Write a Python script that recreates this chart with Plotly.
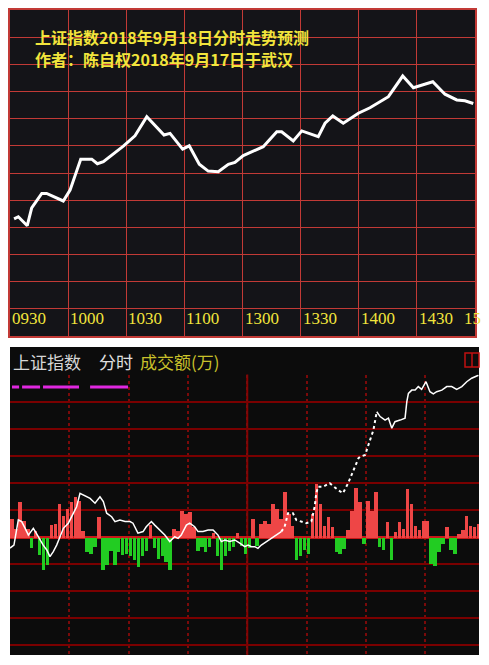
import plotly.graph_objects as go

# page body has an 8px margin, so the figure is placed at (8, 8) in the window
OFF = 8
W, H = 475, 649

# ---------- top chart: forecast intraday path (minutes after 09:30) ----------
top_minutes = [2.1, 4.3, 8.9, 11.2, 16.4, 18.9, 27.5, 31.0, 36.5, 42.2,
               45.1, 48.2, 58.5, 64.5, 70.6, 79.5, 82.6, 89.1, 92.5, 97.7,
               102.3, 107.5, 112.7, 116.1, 120.4, 130.7, 137.7, 140.2, 146.2, 150.6,
               159.1, 162.6, 166.6, 172.0, 179.8, 185.8, 195.3, 202.7, 208.2, 218.2,
               224.5, 230.6, 234.8, 239.1]
top_values = [2683.1, 2683.9, 2680.6, 2687.2, 2692.5, 2692.5, 2689.7, 2693.7, 2705.1, 2705.1,
              2703.4, 2704.2, 2709.9, 2713.7, 2720.7, 2714.0, 2714.6, 2708.8, 2710.0, 2703.2,
              2700.7, 2700.5, 2703.2, 2703.9, 2706.4, 2709.7, 2715.2, 2715.2, 2711.8, 2715.5,
              2713.4, 2718.3, 2721.0, 2718.3, 2722.0, 2724.0, 2728.1, 2735.7, 2731.4, 2733.6,
              2729.0, 2726.9, 2726.6, 2725.6]
top_tick_labels = ["0930", "1000", "1030", "1100", "1300", "1330", "1400", "1430", "15"]
top_tick_pos = [0, 30, 60, 90, 120, 150, 180, 210, 233.3]
title_lines = ["上证指数2018年9月18日分时走势预测", "作者：陈自权2018年9月17日于武汉"]

# ---------- bottom chart: actual intraday ----------
prev_close = 2651.79
line_a_min = [0, 2.0, 4.2, 5.9, 7.6, 9.3, 10.5, 11.8, 13.2, 15.2,
              16.8, 18.6, 20.2, 21.9, 23.6, 25.3, 27.0, 29.5, 32.0, 33.7,
              35.4, 37.1, 40.5, 43.0, 45.5, 47.2, 48.9, 51.4, 53.1, 55.6,
              58.2, 60.7, 62.2, 64.7, 67.3, 68.9, 71.5, 73.2, 75.7, 78.3,
              80.8, 83.3, 85.0, 86.6, 89.2, 90.9, 93.4, 95.1, 97.6, 100.2,
              102.7, 105.2, 106.9, 108.6, 111.1, 113.7, 116.2, 118.7, 120.4, 122.1,
              123.8, 125.4, 127.1, 129.6, 132.2, 134.7, 137.2]
line_a_val = [2647.7, 2648.8, 2658.1, 2657.5, 2655.1, 2652.5, 2653.7, 2655.0, 2653.3, 2650.7,
              2648.8, 2647.0, 2644.5, 2646.4, 2648.8, 2651.9, 2655.0, 2656.9, 2660.6, 2663.0,
              2668.0, 2667.4, 2666.1, 2664.3, 2666.7, 2664.9, 2660.6, 2659.3, 2657.5, 2658.1,
              2657.5, 2657.5, 2656.9, 2653.2, 2653.8, 2655.6, 2657.5, 2656.2, 2654.4, 2652.5,
              2650.1, 2651.9, 2651.3, 2652.5, 2656.2, 2656.9, 2655.6, 2653.8, 2653.8, 2654.4,
              2654.4, 2652.5, 2650.1, 2650.7, 2650.1, 2650.7, 2649.5, 2648.2, 2648.8, 2648.2,
              2648.2, 2647.6, 2648.8, 2650.1, 2651.3, 2652.5, 2653.8]
line_b_min = [137.2, 138.9, 140.6, 143.1, 144.8, 147.3, 149.9, 152.4, 154.1, 154.9,
              155.8, 158.3, 161.7, 165.9, 168.4, 171.0, 173.6, 176.2, 177.0, 179.6,
              182.1, 183.8, 185.5]
line_b_val = [2653.8, 2655.6, 2660.6, 2660.6, 2658.1, 2657.5, 2656.9, 2657.5, 2663.0, 2668.0,
              2670.4, 2670.4, 2671.7, 2669.2, 2668.0, 2671.7, 2676.0, 2680.9, 2681.5, 2682.2,
              2687.7, 2691.4, 2698.2]
line_c_min = [185.5, 187.2, 189.7, 191.4, 193.1, 194.7, 197.3, 199.8, 200.7, 201.5,
              203.2, 204.9, 206.5, 208.2, 210.4, 212.4, 214.1, 215.8, 218.4, 220.9,
              223.4, 225.9, 228.5, 231.0, 233.5, 236.1, 236.9]
line_c_val = [2698.2, 2696.4, 2695.1, 2695.8, 2692.1, 2694.5, 2695.1, 2695.8, 2701.9, 2705.0,
              2706.2, 2706.2, 2707.5, 2706.5, 2709.3, 2705.6, 2704.8, 2705.6, 2706.2, 2707.5,
              2707.5, 2706.5, 2707.5, 2709.3, 2710.6, 2711.4, 2711.7]

bar_minutes = list(range(1, 240, 2))
flow = [7, 3, 13, 6, 3, -4, 2.5, -6.5, -12, -10,
        4.5, 5, 12.5, 8, 10.5, 13, 15, 13.5, 2.5, -5.5,
        -6, -3.5, 7.5, -12, -10, -5, -10, -5.5, -6.5, -6,
        -7, -8.5, -11, -7, -5, 4.5, -4, -8, -7, -9,
        -12, 3, 2.5, 10, 8.8, 9.4, 3.8, -5, -3.5, -5.5,
        -3.5, 1.5, -7, -12, -7, -5, -3.5, 1.5, -3, -6,
        -4, 7, -3, 5, 6.3, 5, 12.5, 10.6, 7, 17,
        8.8, 4.4, -8.5, -6.7, -4.8, -6, 8.8, 20, 12.5, 4.4,
        7.5, 3.8, -5.4, -6, -4.2, 2.6, 10, 18.5, 13, -2.5,
        13.7, 10, 17, -3.6, -4.8, 5.7, -8.5, 2, 5.7, 3.2,
        18, 12.5, 4.4, 2.6, 6.3, 6.3, -9.8, -10.4, -5.4, -2.3,
        3.8, -4.8, -6, 1.4, 2.6, 8.1, 4.4, 3.8, 5, 3.2]
magenta_min = [1.0, 4.6, None, 6.1, 15.2, None, 16.7, 34.9, None, 40.5, 59.7]
magenta_lvl = [55.6, 55.6, None, 55.6, 55.6, None, 55.6, 55.6, None, 55.6, 55.6]

YELLOW = "#f2e53c"
RED = "#ee4646"
GREEN = "#22cc22"


def px(x):
    return (x - OFF) / W


def py(y):
    return 1 - (y - OFF) / H


fig = go.Figure()

fig.add_trace(go.Scatter(x=top_minutes, y=top_values, mode="lines",
                         line=dict(color="white", width=3), xaxis="x", yaxis="y",
                         hoverinfo="skip", showlegend=False))

fig.add_trace(go.Bar(x=bar_minutes, y=flow, width=1.75,
                     marker=dict(color=[RED if v > 0 else GREEN for v in flow], line=dict(width=0)),
                     xaxis="x2", yaxis="y2", showlegend=False))
fig.add_trace(go.Scatter(x=magenta_min, y=magenta_lvl, mode="lines",
                         line=dict(color="#e028e0", width=3), xaxis="x2", yaxis="y2",
                         showlegend=False, connectgaps=False))
fig.add_trace(go.Scatter(x=line_a_min, y=line_a_val, mode="lines",
                         line=dict(color="white", width=1.5), xaxis="x2", yaxis="y3", showlegend=False))
fig.add_trace(go.Scatter(x=line_b_min, y=line_b_val, mode="lines",
                         line=dict(color="white", width=2, dash="dot"), xaxis="x2", yaxis="y3", showlegend=False))
fig.add_trace(go.Scatter(x=line_c_min, y=line_c_val, mode="lines",
                         line=dict(color="white", width=1.5), xaxis="x2", yaxis="y3", showlegend=False))

shapes = [
    dict(type="rect", xref="paper", yref="paper", x0=px(10), x1=px(475), y0=py(336), y1=py(10),
         fillcolor="#141418", line=dict(width=0), layer="below"),
    dict(type="rect", xref="paper", yref="paper", x0=px(10), x1=px(479), y0=py(655), y1=py(347),
         fillcolor="#0c0c0c", line=dict(width=0), layer="below"),
    dict(type="line", xref="x2", yref="y2 domain", x0=120, x1=120, y0=0, y1=1,
         line=dict(color="#8a0000", width=2), layer="below"),
    dict(type="rect", xref="paper", yref="paper", x0=px(465), x1=px(479), y0=py(367), y1=py(353),
         line=dict(color="#c01010", width=1.5)),
    dict(type="line", xref="paper", yref="paper", x0=px(472), x1=px(472), y0=py(367), y1=py(353),
         line=dict(color="#c01010", width=1.5)),
]

annotations = []
for i, t in enumerate(title_lines):
    annotations.append(dict(text="<b>" + t + "</b>", xref="paper", yref="paper",
                            x=px(34), y=py(37 + 21.5 * i), xanchor="left", yanchor="middle",
                            showarrow=False, borderpad=0,
                            font=dict(family="Noto Sans CJK SC", size=16, color=YELLOW)))
for lab, pos in zip(top_tick_labels, top_tick_pos):
    annotations.append(dict(text=lab, xref="x", yref="paper", x=pos, y=py(319),
                            xanchor="left", yanchor="middle", showarrow=False,
                            font=dict(family="Liberation Serif", size=17, color=YELLOW)))
for txt, xx, col in [("上证指数", 11, "#d6d6d6"), ("分时", 97, "#e0e0e0"), ("成交额(万)", 138, "#c9c12a")]:
    annotations.append(dict(text=txt, xref="paper", yref="paper", x=px(xx), y=py(361),
                            xanchor="left", yanchor="middle", showarrow=False,
                            font=dict(family="Noto Sans CJK SC", size=17, color=col)))

fig.update_layout(
    width=W, height=H, autosize=False,
    margin=dict(l=0, r=0, t=0, b=0),
    paper_bgcolor="white", plot_bgcolor="rgba(0,0,0,0)",
    showlegend=False, bargap=0,
    xaxis=dict(domain=[px(10), px(475)], range=[0, 240], dtick=30, tick0=0,
               showgrid=True, gridcolor="#c23a36", gridwidth=1, zeroline=False,
               showticklabels=False, ticks="", showline=True, mirror=True,
               linecolor="#c23a36", linewidth=1.5, anchor="y", fixedrange=True),
    yaxis=dict(domain=[py(336), py(10)], range=[2640, 2760], dtick=10, tick0=2640,
               showgrid=True, gridcolor="#c23a36", gridwidth=1, zeroline=False,
               showticklabels=False, ticks="", showline=True, mirror=True,
               linecolor="#c23a36", linewidth=1.5, anchor="x", fixedrange=True),
    xaxis2=dict(domain=[px(10), px(479)], range=[0, 237.2], dtick=30, tick0=0,
                showgrid=True, gridcolor="#7a0a0a", gridwidth=1.5, griddash="dot",
                zeroline=False, showticklabels=False, ticks="", showline=False,
                anchor="y2", fixedrange=True),
    yaxis2=dict(domain=[py(655), py(374.5)], range=[-43.7, 60.19], dtick=10, tick0=0,
                showgrid=True, gridcolor="#7a0000", gridwidth=2,
                zeroline=True, zerolinecolor="#c81818", zerolinewidth=3,
                showticklabels=False, ticks="", showline=False, anchor="x2", fixedrange=True),
    yaxis3=dict(overlaying="y2", anchor="x2", range=[prev_close - 43.7, prev_close + 60.19],
                visible=False, showgrid=False, zeroline=False, fixedrange=True),
    shapes=shapes,
    annotations=annotations,
)

fig.write_html("out.html")
